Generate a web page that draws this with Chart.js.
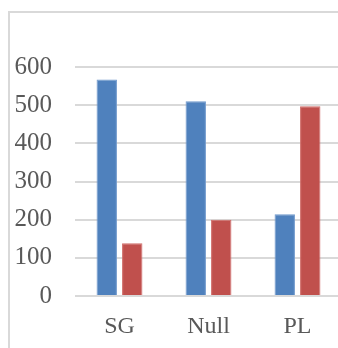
<!DOCTYPE html>
<html>
<head>
<meta charset="utf-8">
<script src="https://cdn.jsdelivr.net/npm/chart.js@4/dist/chart.umd.min.js"></script>
<style>
html,body{margin:0;padding:0;background:#fff;overflow:hidden;width:338px;height:348px;}
#frame{position:absolute;left:8px;top:11px;width:400px;height:400px;border-left:2px solid #d9d9d9;border-top:2px solid #d9d9d9;}
#c{position:absolute;left:0;top:0;}
</style>
</head>
<body>
<div id="frame"></div>
<canvas id="c" width="344" height="348"></canvas>
<script>
const categories = ['SG', 'Null', 'PL'];
const seriesBlue = [567, 510, 214];
const seriesRed = [138, 200, 497];
const yTicks = [0, 100, 200, 300, 400, 500, 600];

const fontY = {family: '"Liberation Serif", serif', size: 25};
const fontX = {family: '"Liberation Serif", serif', size: 24};
new Chart(document.getElementById('c'), {
  type: 'bar',
  data: {
    labels: categories,
    datasets: [
      {data: seriesBlue, backgroundColor: '#4F81BD', borderColor: '#6f98cc', borderWidth: 1, categoryPercentage: 0.573, barPercentage: 0.8},
      {data: seriesRed, backgroundColor: '#C0504D', borderColor: '#d06c69', borderWidth: 1, categoryPercentage: 0.573, barPercentage: 0.8}
    ]
  },
  options: {
    responsive: false,
    animation: false,
    layout: {padding: {top: 67, right: 2, left: 0, bottom: 0}},
    plugins: {legend: {display: false}, tooltip: {enabled: false}},
    scales: {
      x: {
        grid: {display: false},
        border: {display: false},
        ticks: {color: '#595959', font: fontX, padding: 8},
        afterFit: s => { s.height = 52; }
      },
      y: {
        min: 0, max: 600,
        afterBuildTicks: s => { s.ticks = yTicks.map(v => ({value: v})); },
        grid: {color: '#d9d9d9', lineWidth: 2, drawTicks: false},
        border: {display: false},
        ticks: {color: '#595959', font: fontY, padding: 23},
        afterFit: s => { s.width = 75; }
      }
    }
  }
});
</script>
</body>
</html>
